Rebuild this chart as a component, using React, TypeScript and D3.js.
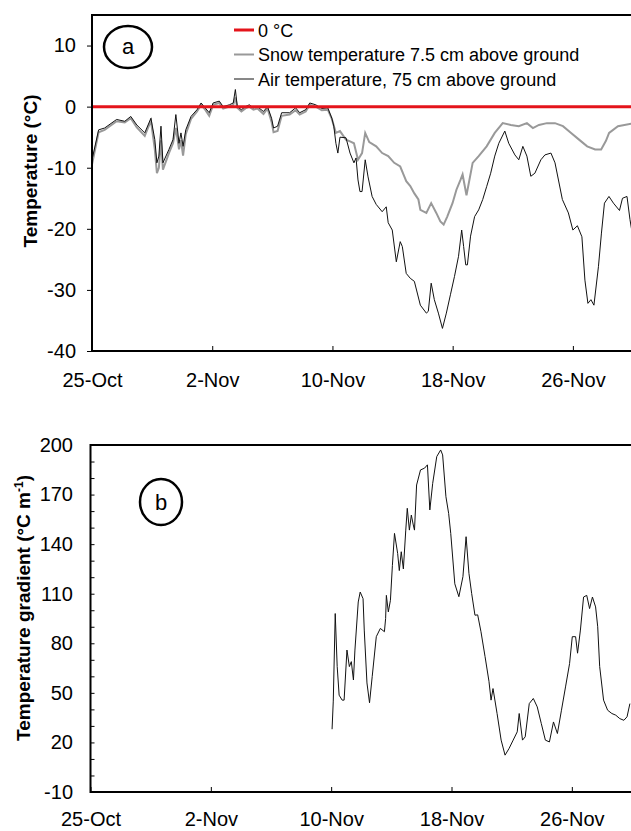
import React, { useEffect, useRef } from "react";
import * as d3 from "d3";

// days counted from 25-Oct
const xTickDays = [0, 8, 16, 24, 32];
const xTickLabels = ["25-Oct", "2-Nov", "10-Nov", "18-Nov", "26-Nov"];
const tempTicks = [10, 0, -10, -20, -30, -40];
const gradTicks = [200, 170, 140, 110, 80, 50, 20, -10];

const legendLabels = [
  "0 °C",
  "Snow temperature 7.5 cm above ground",
  "Air temperature, 75 cm above ground",
];

// air temperature, 75 cm above ground [day, °C]
const airTemp: [number, number][] = [
  [0, -8.7], [0.44, -3.8], [0.84, -3.5], [1.64, -2.1], [2.18, -2.4], [2.58, -1.6],
  [2.98, -3.0], [3.51, -4.3], [3.92, -1.9], [4.18, -5.4], [4.32, -9.2], [4.45, -8.1],
  [4.59, -3.2], [4.72, -9.2], [5.12, -7.0], [5.39, -5.4], [5.58, -1.3], [5.79, -6.0],
  [5.92, -4.3], [6.06, -6.5], [6.24, -3.8], [6.59, -1.6], [6.99, -0.5], [7.26, 0.6],
  [7.53, -0.2], [7.8, -1.0], [8.06, 0.6], [8.47, 0.9], [8.73, 0.0], [9.14, 0.3],
  [9.4, 0.6], [9.54, 2.8], [9.67, 0.0], [9.94, -0.5], [10.21, 0.0], [10.47, 0.3],
  [10.74, -0.2], [11.01, 0.0], [11.41, -0.8], [11.68, 0.0], [11.95, -1.9], [12.08, -3.5],
  [12.35, -3.2], [12.62, -1.0], [13.15, -1.0], [13.55, -0.2], [13.82, -1.0], [14.22, -0.5],
  [14.49, 0.6], [14.89, 0.3], [15.29, -0.3], [15.69, -0.2], [15.96, -1.9], [16.09, -3.2],
  [16.23, -6.0], [16.36, -7.6], [16.5, -5.0], [16.9, -5.1], [17.17, -7.6], [17.43, -9.2],
  [17.57, -8.4], [17.7, -12.0], [17.83, -13.9], [17.97, -13.9], [18.18, -8.7], [18.37, -11.5],
  [18.64, -14.7], [18.91, -16.0], [19.31, -17.2], [19.58, -16.4], [19.71, -19.0], [19.98, -20.2],
  [20.25, -25.4], [20.51, -22.1], [20.65, -22.9], [20.91, -27.3], [21.18, -28.1], [21.45, -28.6],
  [21.85, -32.5], [22.25, -33.8], [22.38, -33.5], [22.57, -28.9], [22.78, -31.6], [23.05, -33.8],
  [23.32, -36.3], [23.58, -33.8], [23.85, -30.8], [24.12, -27.8], [24.39, -24.5], [24.6, -20.2],
  [24.73, -22.9], [24.87, -25.9], [24.98, -25.9], [25.19, -21.2], [25.46, -18.0], [25.73, -16.9],
  [26.0, -15.2], [26.26, -13.1], [26.53, -10.9], [26.8, -8.1], [27.07, -6.0], [27.47, -4.0],
  [27.73, -6.0], [28.14, -7.9], [28.4, -8.7], [28.67, -6.5], [28.94, -8.1], [29.2, -11.4],
  [29.47, -10.9], [29.87, -8.7], [30.14, -7.9], [30.54, -7.6], [30.81, -9.2], [31.3, -15.2],
  [31.7, -17.4], [32.0, -20.2], [32.3, -19.5], [32.6, -21.3], [32.8, -28.4], [33.0, -32.2],
  [33.2, -31.6], [33.4, -32.5], [33.7, -26.2], [33.9, -20.7], [34.1, -15.8], [34.4, -14.7],
  [34.7, -15.8], [35.1, -17.0], [35.3, -15.0], [35.6, -14.7], [35.8, -18.5], [35.9, -20.0],
];

// snow temperature, 7.5 cm above ground [day, °C]
const snowTemp: [number, number][] = [
  [0, -9.5], [0.44, -4.2], [0.84, -3.8], [1.64, -2.4], [2.18, -2.6], [2.58, -1.9],
  [2.98, -3.4], [3.51, -4.8], [3.92, -2.3], [4.18, -7.0], [4.32, -10.9], [4.45, -10.0],
  [4.59, -5.5], [4.72, -10.3], [5.12, -7.6], [5.39, -6.0], [5.58, -3.5], [5.79, -7.0],
  [5.92, -5.5], [6.06, -8.0], [6.24, -4.5], [6.59, -2.0], [6.99, -0.8], [7.26, 0.3],
  [7.53, -0.5], [7.8, -1.5], [8.06, 0.3], [8.47, 0.6], [8.73, -0.3], [9.14, 0.0],
  [9.4, 0.3], [9.54, 1.5], [9.67, -0.2], [9.94, -0.8], [10.21, -0.3], [10.47, 0.0],
  [10.74, -0.5], [11.01, -0.3], [11.41, -1.2], [11.68, -0.3], [11.95, -2.5], [12.08, -4.2],
  [12.35, -4.0], [12.62, -1.5], [13.15, -1.3], [13.55, -0.6], [13.82, -1.3], [14.22, -0.8],
  [14.49, 0.3], [14.89, 0.0], [15.29, -0.6], [15.69, -0.5], [15.96, -2.0], [16.23, -4.3],
  [16.5, -4.0], [16.9, -5.4], [17.17, -5.7], [17.43, -6.0], [17.7, -8.7], [17.97, -7.6],
  [18.18, -4.3], [18.45, -5.8], [18.91, -6.5], [19.31, -7.6], [19.71, -8.1], [20.11, -9.2],
  [20.51, -9.8], [20.78, -11.4], [20.91, -12.2], [21.18, -13.0], [21.45, -14.2], [21.72, -15.2],
  [21.85, -16.9], [22.25, -17.4], [22.57, -15.8], [22.91, -17.4], [23.18, -18.8], [23.4, -19.3],
  [23.64, -18.0], [23.99, -15.8], [24.25, -13.6], [24.52, -12.0], [24.66, -11.1], [24.92, -14.5],
  [25.33, -9.2], [25.73, -8.1], [26.26, -6.5], [26.8, -4.3], [27.33, -2.7], [27.87, -3.0],
  [28.4, -3.2], [28.94, -2.7], [29.34, -3.5], [29.74, -3.0], [30.27, -2.7], [30.81, -2.7],
  [31.34, -3.2], [31.88, -4.3], [32.41, -5.4], [32.95, -6.5], [33.48, -7.0], [33.88, -7.0],
  [34.2, -5.6], [34.41, -4.3], [35.0, -3.2], [35.9, -2.8],
];

// temperature gradient [day, °C m-1]
const gradient: [number, number][] = [
  [16.06, 28], [16.14, 45], [16.27, 98], [16.4, 66], [16.53, 48.6], [16.73, 45.6],
  [16.86, 45.6], [17.05, 75.9], [17.21, 65.9], [17.34, 68.9], [17.48, 57.8], [17.58, 75.9],
  [17.8, 105], [17.93, 111], [18.12, 107], [18.2, 88], [18.38, 56], [18.55, 44],
  [18.73, 60], [19.0, 84], [19.27, 89], [19.54, 87], [19.62, 95], [19.67, 109],
  [19.8, 99], [19.94, 106], [20.07, 127], [20.21, 146.5], [20.42, 134.4], [20.53, 124],
  [20.66, 135.4], [20.8, 125], [20.96, 148.5], [21.06, 161.7], [21.2, 148.5], [21.33, 157.6],
  [21.46, 151.6], [21.54, 148.5], [21.68, 175.8], [21.94, 184.9], [22.21, 186], [22.4, 188],
  [22.56, 160.7], [22.75, 176.8], [23.02, 193], [23.28, 197], [23.41, 194], [23.63, 168.7],
  [23.81, 158.6], [23.95, 146.5], [24.22, 116], [24.49, 108.2], [24.76, 120.3], [24.97, 144.5],
  [25.16, 122.3], [25.34, 110.2], [25.56, 97], [25.74, 97.2], [25.96, 87], [26.23, 72],
  [26.49, 57], [26.63, 45.6], [26.76, 52.6], [27.03, 37.5], [27.3, 21.4], [27.56, 12.3],
  [27.83, 16.4], [28.1, 21.4], [28.37, 26.4], [28.5, 37.5], [28.72, 21.4], [28.9, 23.4],
  [29.17, 43.5], [29.44, 46.6], [29.7, 41.5], [29.97, 31.4], [30.24, 21.4], [30.51, 20.3],
  [30.78, 32.4], [31.04, 25.4], [31.31, 39.5], [31.58, 53.6], [31.85, 67.7], [32.03, 84],
  [32.25, 84], [32.38, 74], [32.57, 88], [32.78, 108], [32.99, 109], [33.18, 101],
  [33.37, 108], [33.58, 102], [33.72, 90], [33.85, 66], [34.11, 45.6], [34.38, 39.5],
  [34.66, 37.5], [34.92, 36.5], [35.19, 34.4], [35.46, 33.4], [35.67, 35.5], [35.86, 43.5],
];

const FONT = "Arial, 'Liberation Sans', sans-serif";

const App: React.FC = () => {
  const svgRef = useRef<SVGSVGElement | null>(null);

  useEffect(() => {
    if (!svgRef.current) return;
    const svg = d3.select(svgRef.current);
    svg.selectAll("*").remove();
    svg.style("font-family", FONT);

    const styleAxis = (g: d3.Selection<SVGGElement, unknown, null, undefined>, size: number) => {
      g.select(".domain").remove();
      g.selectAll("line").attr("stroke", "#000").attr("stroke-width", 1);
      g.selectAll("text").attr("fill", "#000").style("font-size", `${size}px`).style("font-family", FONT);
    };

    // ---------- panel a ----------
    const xA = d3.scaleLinear().domain([0, 36]).range([92, 633]);
    const yA = d3.scaleLinear().domain([-40, 15]).range([351, 15]);
    const lineA = d3
      .line<[number, number]>()
      .x((d) => xA(d[0]))
      .y((d) => yA(d[1]));

    svg
      .append("path")
      .attr("d", lineA(snowTemp)!)
      .attr("fill", "none")
      .attr("stroke", "#999")
      .attr("stroke-width", 2);
    svg
      .append("path")
      .attr("d", lineA(airTemp)!)
      .attr("fill", "none")
      .attr("stroke", "#111")
      .attr("stroke-width", 1);
    svg
      .append("line")
      .attr("x1", xA(0))
      .attr("x2", xA(36))
      .attr("y1", yA(0))
      .attr("y2", yA(0))
      .attr("stroke", "#e4141b")
      .attr("stroke-width", 3);

    svg
      .append("g")
      .attr("transform", `translate(${xA(0)},0)`)
      .call(d3.axisLeft(yA).tickValues(tempTicks).tickSize(5).tickPadding(11).tickFormat((d) => String(d)))
      .call((g) => styleAxis(g, 20));
    svg
      .append("g")
      .attr("transform", `translate(0,${yA(-40)})`)
      .call(
        d3
          .axisBottom(xA)
          .tickValues(xTickDays)
          .tickSize(-5)
          .tickPadding(22)
          .tickFormat((d, i) => xTickLabels[i])
      )
      .call((g) => styleAxis(g, 20));

    svg
      .append("path")
      .attr("d", `M${xA(36)},${yA(15)}H${xA(0)}V${yA(-40)}H${xA(36)}`)
      .attr("fill", "none")
      .attr("stroke", "#000")
      .attr("stroke-width", 2);

    svg
      .append("text")
      .attr("transform", `translate(37,171) rotate(-90)`)
      .attr("text-anchor", "middle")
      .style("font-size", "19px")
      .style("font-weight", "bold")
      .text("Temperature (°C)");

    svg
      .append("ellipse")
      .attr("cx", 128)
      .attr("cy", 47)
      .attr("rx", 24)
      .attr("ry", 21)
      .attr("fill", "none")
      .attr("stroke", "#000")
      .attr("stroke-width", 2.5);
    svg
      .append("text")
      .attr("x", 128)
      .attr("y", 54)
      .attr("text-anchor", "middle")
      .style("font-size", "22px")
      .text("a");

    // legend
    const legendColors = ["#e4141b", "#999", "#111"];
    const legendWidths = [3, 2, 1];
    const legend = svg.append("g");
    legendLabels.forEach((label, i) => {
      const y = 30 + i * 24.5;
      legend
        .append("line")
        .attr("x1", 234)
        .attr("x2", 254)
        .attr("y1", y)
        .attr("y2", y)
        .attr("stroke", legendColors[i])
        .attr("stroke-width", legendWidths[i]);
      legend
        .append("text")
        .attr("x", 258)
        .attr("y", y + 6.5)
        .style("font-size", "18px")
        .text(label);
    });

    // ---------- panel b ----------
    const xB = d3.scaleLinear().domain([0, 36]).range([90.5, 632]);
    const yB = d3.scaleLinear().domain([-10, 200]).range([792, 445]);
    const lineB = d3
      .line<[number, number]>()
      .x((d) => xB(d[0]))
      .y((d) => yB(d[1]));

    svg
      .append("path")
      .attr("d", lineB(gradient)!)
      .attr("fill", "none")
      .attr("stroke", "#111")
      .attr("stroke-width", 1);

    svg
      .append("g")
      .attr("transform", `translate(${xB(0)},0)`)
      .call(
        d3
          .axisLeft(yB)
          .tickValues(d3.range(-10, 201, 10))
          .tickSize(-4)
          .tickPadding(17.5)
          .tickFormat((d) => (gradTicks.includes(+d) ? String(d) : ""))
      )
      .call((g) => styleAxis(g, 20));
    svg
      .append("g")
      .attr("transform", `translate(0,${yB(-10)})`)
      .call(
        d3
          .axisBottom(xB)
          .tickValues(xTickDays)
          .tickSize(-5)
          .tickPadding(20)
          .tickFormat((d, i) => xTickLabels[i])
      )
      .call((g) => styleAxis(g, 20));

    svg
      .append("path")
      .attr("d", `M${xB(36)},${yB(200)}H${xB(0)}V${yB(-10)}H${xB(36)}`)
      .attr("fill", "none")
      .attr("stroke", "#000")
      .attr("stroke-width", 2);

    const titleB = svg
      .append("text")
      .attr("transform", `translate(30,608) rotate(-90)`)
      .attr("text-anchor", "middle")
      .style("font-size", "19px")
      .style("font-weight", "bold");
    titleB.append("tspan").text("Temperature gradient (°C m");
    titleB.append("tspan").attr("dy", -7).style("font-size", "12px").text("-1");
    titleB.append("tspan").attr("dy", 7).text(")");

    svg
      .append("ellipse")
      .attr("cx", 161)
      .attr("cy", 502)
      .attr("rx", 21)
      .attr("ry", 23)
      .attr("fill", "none")
      .attr("stroke", "#000")
      .attr("stroke-width", 2.5);
    svg
      .append("text")
      .attr("x", 161)
      .attr("y", 510)
      .attr("text-anchor", "middle")
      .style("font-size", "22px")
      .text("b");
  }, []);

  return (
    <svg
      ref={svgRef}
      width={631}
      height={831}
      style={{ position: "absolute", left: 0, top: 0, background: "#fff" }}
    />
  );
};

export default App;
